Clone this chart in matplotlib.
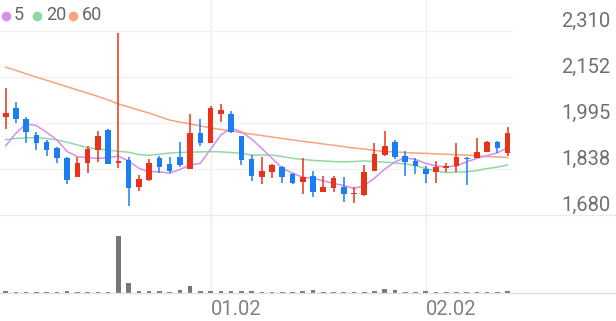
import matplotlib
matplotlib.use('Agg')
import matplotlib.pyplot as plt
from matplotlib.lines import Line2D

# daily candles
opens = [2015, 2045, 2009, 1954, 1929, 1908, 1876, 1809, 1859, 1903,
         1971, 1857, 1868, 1775, 1800, 1874, 1855, 1877, 1838, 1962,
         1928, 2026, 2026, 1950, 1870, 1811, 1828, 1845, 1819, 1792,
         1813, 1760, 1771, 1777, 1751, 1748, 1832, 1884, 1931, 1882,
         1865, 1836, 1828, 1842, 1848, 1876, 1874, 1897, 1931, 1891]
highs = [2114, 2068, 2015, 1963, 1937, 1912, 1878, 1880, 1917, 1966,
         1973, 2302, 1877, 1817, 1872, 1883, 1880, 1931, 2026, 2008,
         2054, 2059, 2037, 1952, 1885, 1880, 1855, 1848, 1823, 1874,
         1831, 1813, 1813, 1809, 1775, 1851, 1927, 1968, 1937, 1899,
         1874, 1848, 1866, 1859, 1927, 1877, 1943, 1935, 1933, 1980]
lows = [1975, 1994, 1926, 1903, 1882, 1859, 1786, 1809, 1823, 1860,
        1855, 1841, 1712, 1763, 1797, 1825, 1823, 1843, 1838, 1916,
        1928, 1999, 1960, 1851, 1797, 1785, 1806, 1789, 1785, 1752,
        1741, 1760, 1760, 1725, 1720, 1745, 1832, 1882, 1872, 1813,
        1820, 1791, 1791, 1828, 1828, 1783, 1874, 1894, 1891, 1882]
closes = [2030, 2008, 1965, 1928, 1903, 1874, 1800, 1859, 1906, 1950,
          1855, 1865, 1771, 1802, 1859, 1843, 1832, 1851, 1962, 1925,
          2045, 2040, 1965, 1868, 1813, 1831, 1851, 1809, 1791, 1811,
          1760, 1775, 1808, 1752, 1754, 1828, 1888, 1916, 1880, 1862,
          1848, 1820, 1845, 1849, 1877, 1871, 1897, 1931, 1910, 1960]
volumes = [200, 133, 133, 100, 100, 133, 200, 133, 133, 133,
           133, 5730, 970, 167, 167, 167, 133, 333, 667, 167,
           167, 167, 167, 167, 167, 100, 100, 133, 133, 167,
           333, 133, 133, 133, 133, 133, 200, 400, 267, 133,
           133, 167, 133, 133, 133, 100, 100, 100, 100, 167]

# moving averages as drawn
ma5 = [1917, 1960, 1992, 1986, 1963, 1937, 1897, 1880, 1876, 1874,
       1876, 1882, 1865, 1840, 1828, 1828, 1823, 1836, 1851, 1857,
       1905, 1954, 1977, 1965, 1940, 1908, 1874, 1840, 1823, 1809,
       1806, 1797, 1788, 1781, 1771, 1781, 1806, 1837, 1862, 1876,
       1870, 1857, 1848, 1845, 1848, 1862, 1874, 1883, 1893, 1911]
ma20 = [1938, 1942, 1944, 1945, 1942, 1937, 1929, 1920, 1910, 1906,
        1902, 1898, 1895, 1887, 1884, 1888, 1892, 1894, 1895, 1896,
        1897, 1896, 1894, 1891, 1885, 1885, 1885, 1880, 1874, 1870,
        1867, 1865, 1863, 1862, 1863, 1865, 1863, 1861, 1858, 1855,
        1849, 1839, 1831, 1825, 1827, 1828, 1832, 1839, 1844, 1851]
ma60 = [2186, 2175, 2163, 2152, 2141, 2130, 2119, 2108, 2097, 2086,
        2074, 2060, 2050, 2039, 2029, 2017, 2005, 1998, 1992, 1985,
        1978, 1973, 1968, 1962, 1957, 1952, 1947, 1942, 1937, 1932,
        1928, 1923, 1919, 1914, 1909, 1906, 1901, 1897, 1896, 1894,
        1892, 1891, 1889, 1888, 1886, 1885, 1883, 1880, 1879, 1877]

price_ticks = [2310, 2152.5, 1995, 1837.5, 1680]
price_labels = ['2,310', '2,152', '1,995', '1,838', '1,680']
date_idx = [20, 41]
date_labels = ['01.02', '02.02']

UP = '#e8321a'
DOWN = '#1a7df2'
C5, C20, C60 = '#d58ef2', '#8ed9a3', '#f9a47f'

plt.rcParams['font.family'] = ['Roboto', 'DejaVu Sans']

W, H = 616, 321
fig = plt.figure(figsize=(W / 100, H / 100), dpi=100)


def box(l, t, r, b):
    return [l / W, 1 - b / H, (r - l) / W, (b - t) / H]


ax = fig.add_axes(box(0, 0, 513, 215))
axv = fig.add_axes(box(0, 215, 513, 293))

n = len(closes)
xs = list(range(n))
for a in (ax, axv):
    a.set_xlim(-0.556, 49.52)
    for s in a.spines.values():
        s.set_visible(False)
    for d in date_idx:
        a.axvline(d, color='#eeeeee', lw=1, zorder=0)

# price panel
ax.set_ylim(1680, 2416)
for t in price_ticks[:-1]:
    ax.axhline(t, color='#f0f0f0', lw=1, zorder=0)

ax.plot(xs, ma60, color=C60, lw=1.1, zorder=2)
ax.plot(xs, ma20, color=C20, lw=1.1, zorder=2)
ax.plot(xs, ma5, color=C5, lw=1.1, zorder=2)

for i in xs:
    o, h, l, c = opens[i], highs[i], lows[i], closes[i]
    col = UP if c >= o else DOWN
    ax.vlines(i, l, h, color=col, lw=1.1, zorder=3)
    body = max(abs(c - o), 4)
    ax.bar(i, body, bottom=min(o, c), width=0.55, color=col, zorder=4)

ax.set_xticks([])
ax.yaxis.tick_right()
ax.set_yticks(price_ticks, price_labels)
ax.tick_params(axis='y', length=0, pad=70, labelsize=14.5, labelcolor='#707070')
for lbl in ax.get_yticklabels():
    lbl.set_ha('right')
    lbl.set_va('bottom')

# volume panel
axv.set_ylim(0, 7800)
axv.bar(xs, volumes, width=0.45, color='#777777', zorder=2)
axv.set_yticks([])
axv.set_xticks(date_idx, date_labels)
axv.tick_params(axis='x', length=0, pad=5, labelsize=14.5, labelcolor='#808080')
for lbl in axv.get_xticklabels():
    lbl.set_ha('left')

# separator lines running the full width
fig.add_artist(Line2D([0, 1], [1 - 215 / H, 1 - 215 / H], color='#ebebeb', lw=1))
fig.add_artist(Line2D([0, 1], [1 - 293 / H, 1 - 293 / H], color='#e0e0e0', lw=1))

# legend
legend_items = [('5', C5, 6, 14), ('20', C20, 37, 46), ('60', C60, 73, 82)]
for name, col, dot_x, text_x in legend_items:
    fig.add_artist(Line2D([dot_x / W], [1 - 15.5 / H], marker='o', markersize=7,
                          color=col, markeredgewidth=0))
    fig.text(text_x / W, 1 - 15.5 / H, name, fontsize=13, color='#666666',
             ha='left', va='center')

fig.savefig('out.png', dpi=100)
